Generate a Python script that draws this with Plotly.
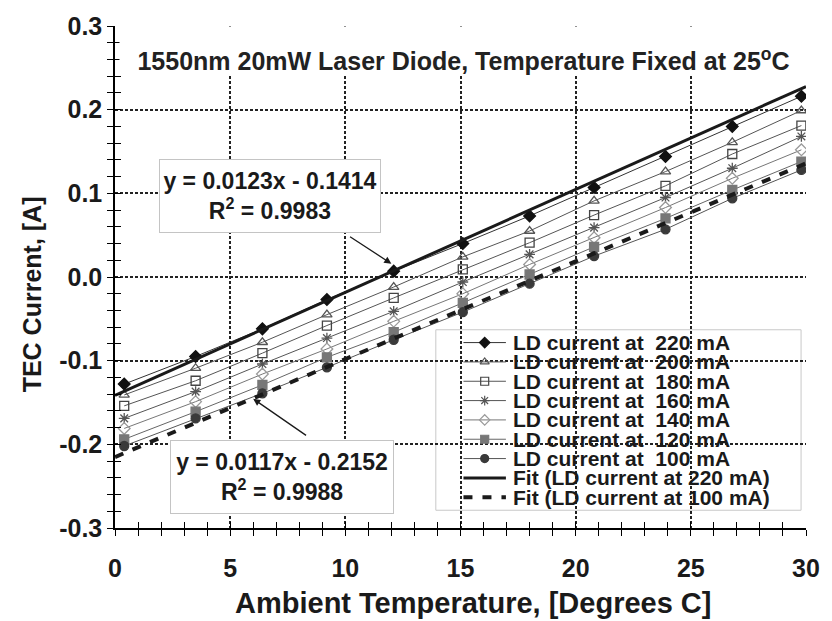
import plotly.graph_objects as go

# Ambient temperature set points (deg C)
temps = [0.4, 3.5, 6.4, 9.2, 12.1, 15.1, 18.0, 20.8, 23.9, 26.8, 29.8]

# TEC current (A) for each laser-diode drive current
tec_220 = [-0.128, -0.095, -0.062, -0.027, 0.007, 0.040, 0.073, 0.107, 0.144, 0.180, 0.216]
tec_200 = [-0.141, -0.109, -0.078, -0.045, -0.012, 0.024, 0.055, 0.091, 0.126, 0.161, 0.199]
tec_180 = [-0.154, -0.124, -0.091, -0.058, -0.025, 0.009, 0.041, 0.074, 0.109, 0.147, 0.181]
tec_160 = [-0.169, -0.137, -0.104, -0.073, -0.041, -0.006, 0.027, 0.059, 0.095, 0.130, 0.168]
tec_140 = [-0.181, -0.149, -0.116, -0.086, -0.053, -0.020, 0.015, 0.047, 0.083, 0.118, 0.152]
tec_120 = [-0.194, -0.161, -0.129, -0.096, -0.066, -0.031, 0.003, 0.036, 0.070, 0.104, 0.138]
tec_100 = [-0.202, -0.169, -0.139, -0.108, -0.075, -0.042, -0.008, 0.025, 0.057, 0.094, 0.128]

ld_currents = ["220", "200", "180", "160", "140", "120", "100"]

# Linear fits for the 220 mA and 100 mA curves
fit_currents = ["220", "100"]
fit_slopes = [0.0123, 0.0117]
fit_intercepts = [-0.1414, -0.2152]
fit_r2 = [0.9983, 0.9988]
fit_span = [0, 30]

x_ticks = [0, 5, 10, 15, 20, 25, 30]
y_ticks = [-0.3, -0.2, -0.1, 0.0, 0.1, 0.2, 0.3]
y_tick_text = ["-0.3", "-0.2", "-0.1", "0.0", "0.1", "0.2", "0.3"]

x_title = "Ambient Temperature, [Degrees C]"
y_title = "TEC Current, [A]"
heading = "1550nm 20mW Laser Diode, Temperature Fixed at 25<sup>o</sup>C"

# ---- page geometry (pixels) ----
W, H = 832, 621
ML, MR, MT, MB = 115, 17, 19, 93
PW, PH = W - ML - MR, H - MT - MB


def fx(px):
    return (px - ML) / PW


def fy(py):
    return (H - MB - py) / PH


FONT = "Liberation Sans, Arial, sans-serif"
INK = "#1a1a1a"

styles = [
    dict(symbol="diamond", color="#111111", lc="#333333"),
    dict(symbol="triangle-up-open", color="#555555", lc="#555555"),
    dict(symbol="square-open", color="#444444", lc="#555555"),
    dict(symbol="asterisk-open", color="#555555", lc="#555555"),
    dict(symbol="diamond-open", color="#9a9a9a", lc="#777777"),
    dict(symbol="square", color="#777777", lc="#666666"),
    dict(symbol="circle", color="#3a3a3a", lc="#555555"),
]
series = [tec_220, tec_200, tec_180, tec_160, tec_140, tec_120, tec_100]

fig = go.Figure()

for vals, st, cur in zip(series, styles, ld_currents):
    fig.add_trace(go.Scatter(
        x=temps, y=vals, mode="lines+markers",
        name=f"LD current at {cur} mA",
        line=dict(color=st["lc"], width=1),
        marker=dict(symbol=st["symbol"], size=9, color=st["color"],
                    line=dict(color=st["color"], width=1.3)),
        showlegend=False,
    ))

fit_styles = [dict(color=INK, width=3, dash="solid"),
              dict(color=INK, width=4, dash="9px,10px")]
for m, b, cur, fs in zip(fit_slopes, fit_intercepts, fit_currents, fit_styles):
    fig.add_trace(go.Scatter(
        x=fit_span, y=[m * t + b for t in fit_span], mode="lines",
        name=f"Fit (LD current at {cur} mA)",
        line=fs, showlegend=False,
    ))

# ---- hand-built legend on an overlay axis spanning the plot area ----
leg_left, leg_right, leg_top, leg_bottom = 440, 810, 327, 510
row0, row_step = 340, 19.6
samp_x0, samp_x1, text_x = 468, 511, 516

annotations = []
for i, (st, cur) in enumerate(zip(styles, ld_currents)):
    yy = fy(row0 + i * row_step)
    fig.add_trace(go.Scatter(
        x=[fx(samp_x0), fx(samp_x1)], y=[yy, yy], xaxis="x2", yaxis="y2",
        mode="lines", line=dict(color=st["lc"], width=1),
        showlegend=False, hoverinfo="skip"))
    fig.add_trace(go.Scatter(
        x=[fx((samp_x0 + samp_x1) / 2)], y=[yy], xaxis="x2", yaxis="y2",
        mode="markers",
        marker=dict(symbol=st["symbol"], size=8, color=st["color"],
                    line=dict(color=st["color"], width=1.2)),
        showlegend=False, hoverinfo="skip"))
    annotations.append(dict(
        xref="paper", yref="paper", x=fx(text_x), y=yy,
        xanchor="left", yanchor="middle", showarrow=False,
        text=f"LD current at\u00a0 {cur} mA",
        font=dict(family=FONT, size=21, color=INK, weight="bold")))

for j, (cur, fs) in enumerate(zip(fit_currents, fit_styles)):
    yy = fy(row0 + (len(ld_currents) + j) * row_step)
    fig.add_trace(go.Scatter(
        x=[fx(samp_x0), fx(samp_x1)], y=[yy, yy], xaxis="x2", yaxis="y2",
        mode="lines", line=fs, showlegend=False, hoverinfo="skip"))
    annotations.append(dict(
        xref="paper", yref="paper", x=fx(text_x), y=yy,
        xanchor="left", yanchor="middle", showarrow=False,
        text=f"Fit (LD current at {cur} mA)",
        font=dict(family=FONT, size=21, color=INK, weight="bold")))

# dummy trace so the tick-mirroring overlay axes are drawn
fig.add_trace(go.Scatter(x=[None], y=[None], xaxis="x3", yaxis="y3",
                         showlegend=False, hoverinfo="skip"))

# ---- fit equation boxes and their arrows ----
eq_boxes = [
    dict(cx=272, cy=191, w=220, h=72),
    dict(cx=284, cy=476, w=222, h=72),
]
arrows = [
    dict(head=(12.0, 0.0159), tail=(10.14, 0.0493)),
    dict(head=(6.0, -0.1456), tail=(8.36, -0.1905)),
]
for m, b, r2, box, arr in zip(fit_slopes, fit_intercepts, fit_r2, eq_boxes, arrows):
    sign = "-" if b < 0 else "+"
    annotations.append(dict(
        xref="paper", yref="paper", x=fx(box["cx"]), y=fy(box["cy"]),
        xanchor="center", yanchor="middle", showarrow=False,
        width=box["w"], height=box["h"], borderpad=0,
        bgcolor="white", bordercolor="#c4c4c4", borderwidth=1,
        text=f"y = {m:.4f}x {sign} {abs(b):.4f}<br>R<sup>2</sup> = {r2:.4f}",
        font=dict(family=FONT, size=23, color=INK, weight="bold")))
    annotations.append(dict(
        xref="x", yref="y", x=arr["head"][0], y=arr["head"][1],
        axref="x", ayref="y", ax=arr["tail"][0], ay=arr["tail"][1],
        text="", showarrow=True, arrowhead=2, arrowsize=1.1,
        arrowwidth=1.3, arrowcolor=INK, standoff=0, startstandoff=0))

# chart heading inside the plot area on a white strip
annotations.append(dict(
    xref="paper", yref="paper", x=fx(468.5), y=fy(44),
    xanchor="center", yanchor="middle", showarrow=False,
    width=687, height=48, borderpad=0, valign="bottom",
    bgcolor="white", text=heading,
    font=dict(family=FONT, size=25, color="#222222", weight="bold")))

# axis titles
annotations.append(dict(
    xref="paper", yref="paper", x=fx(478), y=fy(604),
    xanchor="center", yanchor="middle", showarrow=False, text=x_title,
    font=dict(family=FONT, size=29, color=INK, weight="bold")))
annotations.append(dict(
    xref="paper", yref="paper", x=fx(31), y=fy(291), textangle=-90,
    xanchor="center", yanchor="middle", showarrow=False, text=y_title,
    font=dict(family=FONT, size=25, color=INK, weight="bold")))

shapes = [dict(type="rect", xref="paper", yref="paper",
               x0=fx(leg_left), x1=fx(leg_right), y0=fy(leg_bottom), y1=fy(leg_top),
               fillcolor="white", line=dict(color="#c8c8c8", width=1),
               layer="between")]

grid = dict(showgrid=True, gridcolor="#222222", gridwidth=1.8, griddash="3px,2px")
tickfont = dict(family=FONT, size=25, color=INK, weight="bold")

fig.update_layout(
    width=W, height=H,
    margin=dict(l=ML, r=MR, t=MT, b=MB, pad=0),
    paper_bgcolor="white", plot_bgcolor="white",
    showlegend=False,
    font=dict(family=FONT, color=INK),
    xaxis=dict(range=[0, 30], tickvals=x_ticks, ticks="outside", ticklen=6,
               tickwidth=1.3, tickcolor="black",
               minor=dict(dtick=1, tick0=0, ticks="outside", ticklen=6,
                          tickwidth=1.3, tickcolor="black", showgrid=False),
               showline=True, linecolor="black", linewidth=1.5,
               tickfont=tickfont, ticklabelstandoff=11,
               zeroline=False, **grid),
    yaxis=dict(range=[-0.3, 0.3], tickvals=y_ticks, ticktext=y_tick_text,
               ticks="outside", ticklen=6, tickwidth=1.3, tickcolor="black",
               minor=dict(dtick=0.02, tick0=-0.3, ticks="outside", ticklen=6,
                          tickwidth=1.3, tickcolor="black", showgrid=False),
               showline=True, linecolor="black", linewidth=1.5,
               tickfont=tickfont, ticklabelstandoff=0,
               zeroline=False, **grid),
    xaxis2=dict(overlaying="x", range=[0, 1], visible=False),
    yaxis2=dict(overlaying="y", range=[0, 1], visible=False),
    xaxis3=dict(overlaying="x", anchor="y3", range=[0, 30], tickvals=x_ticks,
                ticks="inside", ticklen=6, tickwidth=1.3, tickcolor="black",
                minor=dict(dtick=1, tick0=0, ticks="inside", ticklen=6,
                           tickwidth=1.3, tickcolor="black", showgrid=False),
                showticklabels=False, showgrid=False, showline=False, zeroline=False),
    yaxis3=dict(overlaying="y", anchor="x3", range=[-0.3, 0.3], tickvals=y_ticks,
                ticks="inside", ticklen=6, tickwidth=1.3, tickcolor="black",
                minor=dict(dtick=0.02, tick0=-0.3, ticks="inside", ticklen=6,
                           tickwidth=1.3, tickcolor="black", showgrid=False),
                showticklabels=False, showgrid=False, showline=False, zeroline=False),
    annotations=annotations,
    shapes=shapes,
)

fig.write_html("out.html")
